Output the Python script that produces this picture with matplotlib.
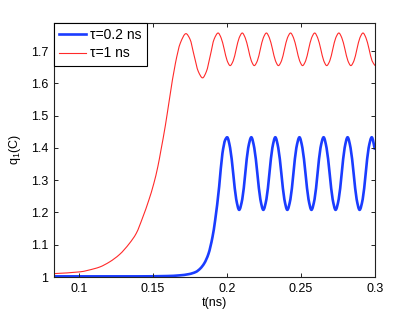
import numpy as np
import matplotlib
matplotlib.use("Agg")
import matplotlib.pyplot as plt
from matplotlib.path import Path
from matplotlib.patches import PathPatch
from matplotlib.lines import Line2D

plt.rcParams['font.family'] = ['Liberation Sans', 'DejaVu Sans']
plt.rcParams['mathtext.fontset'] = 'custom'
plt.rcParams['mathtext.rm'] = 'Liberation Sans'
plt.rcParams['mathtext.it'] = 'Liberation Sans:italic'

# ---------------- data ----------------
labels = ["\u03c4=0.2 ns", "\u03c4=1 ns"]

blue_t = [0.0833, 0.110, 0.140, 0.160, 0.168, 0.1745, 0.1792, 0.1820, 0.1847, 0.1876,
          0.1903, 0.1921, 0.1948, 0.1970, 0.1989,
          0.2002, 0.2022, 0.2043, 0.2063, 0.2083, 0.2104, 0.2124, 0.2144,
          0.2165, 0.2185, 0.2206, 0.2226, 0.2246, 0.2267, 0.2287, 0.2307,
          0.2327, 0.2347, 0.2368, 0.2388, 0.2408, 0.2429, 0.2449, 0.2469,
          0.2490, 0.2510, 0.2531, 0.2551, 0.2571, 0.2592, 0.2612, 0.2632,
          0.2653, 0.2673, 0.2694, 0.2714, 0.2734, 0.2755, 0.2775, 0.2795,
          0.2815, 0.2835, 0.2856, 0.2876, 0.2896, 0.2917, 0.2937, 0.2957,
          0.2978, 0.3000]
blue_q = [1.002, 1.002, 1.002, 1.003, 1.005, 1.009, 1.016, 1.026, 1.042, 1.072,
          1.124, 1.176, 1.280, 1.383, 1.425,
          1.433, 1.400, 1.320, 1.241, 1.208, 1.241, 1.320, 1.400,
          1.433, 1.400, 1.320, 1.241, 1.208, 1.241, 1.320, 1.400,
          1.433, 1.400, 1.320, 1.241, 1.208, 1.241, 1.320, 1.400,
          1.433, 1.400, 1.320, 1.241, 1.208, 1.241, 1.320, 1.400,
          1.433, 1.400, 1.320, 1.241, 1.208, 1.241, 1.320, 1.400,
          1.433, 1.400, 1.320, 1.241, 1.208, 1.241, 1.320, 1.400,
          1.433, 1.394]

red_t = [0.0833, 0.1009, 0.1107, 0.1142, 0.1209, 0.1276, 0.1342, 0.1388, 0.1433, 0.1473,
         0.1507, 0.1534, 0.1555, 0.1585, 0.1612, 0.1653, 0.1686, 0.1724,
         0.1751, 0.1779, 0.1807, 0.1836, 0.1862, 0.1888, 0.1914,
         0.1941, 0.1961, 0.1982, 0.2002, 0.2022, 0.2043, 0.2063, 0.2083,
         0.2104, 0.2124, 0.2145, 0.2165, 0.2185, 0.2206, 0.2226, 0.2246,
         0.2267, 0.2287, 0.2308, 0.2328, 0.2348, 0.2369, 0.2389, 0.2409,
         0.2430, 0.2450, 0.2471, 0.2491, 0.2511, 0.2532, 0.2552, 0.2572,
         0.2593, 0.2613, 0.2634, 0.2654, 0.2674, 0.2695, 0.2715, 0.2735,
         0.2756, 0.2776, 0.2797, 0.2817, 0.2837, 0.2858, 0.2878, 0.2898,
         0.2919, 0.2939, 0.2960, 0.2980, 0.3000]
red_q = [1.0105, 1.016, 1.026, 1.031, 1.047, 1.070, 1.104, 1.135, 1.186, 1.238,
         1.290, 1.342, 1.393, 1.470, 1.550, 1.663, 1.725, 1.754,
         1.737, 1.686, 1.637, 1.617, 1.637, 1.686, 1.737,
         1.756, 1.741, 1.706, 1.670, 1.655, 1.670, 1.706, 1.741,
         1.756, 1.741, 1.706, 1.670, 1.655, 1.670, 1.706, 1.741,
         1.756, 1.741, 1.706, 1.670, 1.655, 1.670, 1.706, 1.741,
         1.756, 1.741, 1.706, 1.670, 1.655, 1.670, 1.706, 1.741,
         1.756, 1.741, 1.706, 1.670, 1.655, 1.670, 1.706, 1.741,
         1.756, 1.741, 1.706, 1.670, 1.655, 1.670, 1.706, 1.741,
         1.756, 1.741, 1.706, 1.670, 1.655]

xticks = [0.1, 0.15, 0.2, 0.25, 0.3]
xticklabels = ["0.1", "0.15", "0.2", "0.25", "0.3"]
yticks = [1.0, 1.1, 1.2, 1.3, 1.4, 1.5, 1.6, 1.7]
yticklabels = ["1", "1.1", "1.2", "1.3", "1.4", "1.5", "1.6", "1.7"]

BLUE = "#1a3cff"
RED = "#ff2a2a"


def smooth_path(x, y):
    """Monotone cubic (Bezier) path through the read points."""
    x = np.asarray(x, float)
    y = np.asarray(y, float)
    n = len(x)
    h = np.diff(x)
    delta = np.diff(y) / h
    d = np.zeros(n)
    d[0] = delta[0]
    d[-1] = delta[-1]
    for i in range(1, n - 1):
        if delta[i - 1] * delta[i] <= 0:
            d[i] = 0.0
        else:
            w1 = 2 * h[i] + h[i - 1]
            w2 = h[i] + 2 * h[i - 1]
            d[i] = (w1 + w2) / (w1 / delta[i - 1] + w2 / delta[i])
    verts = [(x[0], y[0])]
    codes = [Path.MOVETO]
    for i in range(n - 1):
        verts.append((x[i] + h[i] / 3, y[i] + d[i] * h[i] / 3))
        verts.append((x[i + 1] - h[i] / 3, y[i + 1] - d[i + 1] * h[i] / 3))
        verts.append((x[i + 1], y[i + 1]))
        codes += [Path.CURVE4] * 3
    return Path(verts, codes)


fig = plt.figure(figsize=(4.15, 3.13), dpi=100)
ax = fig.add_axes([54 / 415, 36 / 313, 321 / 415, 254 / 313])

ax.add_patch(PathPatch(smooth_path(red_t, red_q), fill=False, edgecolor=RED,
                       lw=0.8, capstyle='butt', joinstyle='round'))
ax.add_patch(PathPatch(smooth_path(blue_t, blue_q), fill=False, edgecolor=BLUE,
                       lw=1.9, capstyle='butt', joinstyle='round'))

ax.set_xlim(0.0833, 0.3)
ax.set_ylim(1.0, 1.787)
ax.set_xticks(xticks)
ax.set_xticklabels(xticklabels)
ax.set_yticks(yticks)
ax.set_yticklabels(yticklabels)
ax.tick_params(direction='in', top=True, right=True, length=3, width=0.7,
               labelsize=9, colors='#222222', labelcolor='black', pad=4)
for s in ax.spines.values():
    s.set_linewidth(0.8)
    s.set_color('#222222')

ax.set_xlabel("t(ns)", fontsize=9, labelpad=2)
ax.set_ylabel("q$_1$(C)", fontsize=9, labelpad=6)

handles = [Line2D([], [], color=BLUE, lw=1.9), Line2D([], [], color=RED, lw=0.8)]
leg = ax.legend(handles, labels, loc='upper left', bbox_to_anchor=(0, 1),
                borderaxespad=0, fancybox=False, framealpha=1, edgecolor='black',
                fontsize=10, handlelength=1.92, handletextpad=0.29, borderpad=0.38,
                labelspacing=0.3)
leg.get_frame().set_linewidth(0.8)

fig.savefig("out.png", dpi=100)
